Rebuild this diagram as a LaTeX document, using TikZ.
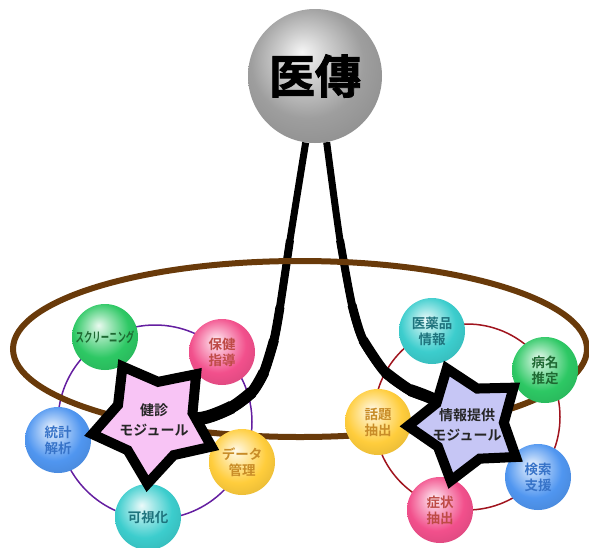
\documentclass[tikz,border=0pt]{standalone}
\usepackage{fontspec}
\usetikzlibrary{shapes.geometric}
\newfontfamily\jp{Noto Sans CJK JP}[BoldFont={Noto Sans CJK JP Bold}]
\newfontfamily\jpheavy{Noto Sans CJK JP Bold}[FakeBold=2]
\pgfdeclarelayer{bg}
\pgfsetlayers{bg,main}
\colorlet{ballc}{gray}
\pgfdeclareradialshading[ballc]{myball}{\pgfqpoint{-5bp}{9bp}}{%
  color(0bp)=(ballc!10!white); color(9bp)=(ballc!50!white);
  color(21bp)=(ballc); color(30bp)=(ballc!92!black); color(50bp)=(ballc!80!black)}
\definecolor{brownc}{RGB}{105,58,10}
\definecolor{purpc}{RGB}{100,30,160}
\definecolor{redc}{RGB}{160,20,30}
\definecolor{gballc}{RGB}{45,200,100}
\definecolor{pballc}{RGB}{242,80,140}
\definecolor{bballc}{RGB}{80,150,240}
\definecolor{yballc}{RGB}{255,205,60}
\definecolor{cballc}{RGB}{60,205,205}
\definecolor{gtxt}{RGB}{30,105,50}
\definecolor{ptxt}{RGB}{190,75,70}
\definecolor{btxt}{RGB}{55,115,200}
\definecolor{ytxt}{RGB}{200,140,40}
\definecolor{ctxt}{RGB}{30,115,125}
\definecolor{starpink}{RGB}{248,196,245}
\definecolor{starlav}{RGB}{198,198,245}
\begin{document}
\begin{tikzpicture}[x=1pt,y=-1pt,
  sphere/.style={circle, minimum size=66pt, inner sep=0pt,
    /utils/exec={\colorlet{ballc}{#1}}, shading=myball, align=center,
    font=\jp\bfseries\fontsize{13.5}{16}\selectfont},
  starbox/.style={star, star points=5, star point ratio=1.6, draw=black,
    line width=10pt, line join=miter, miter limit=10, inner sep=0pt,
    minimum size=#1},
  startext/.style={align=center, text=black!85,
    font=\jp\bfseries\fontsize{14}{19.5}\selectfont},
  blk/.style={draw=black, line width=#1, line cap=butt, line join=round},
  ringline/.style={draw=#1, line width=1.5pt}]
\useasboundingbox (0,0) rectangle (589,547);

% top sphere
\node[circle, minimum size=134pt, inner sep=0pt,
  /utils/exec={\colorlet{ballc}{black!38}}, shading=myball,
  font=\jpheavy\fontsize{46}{50}\selectfont] (top) at (315,76) {医傳};

% left group balls
\node[sphere=gballc, text=gtxt] (scr) at (105,337) {\scalebox{0.62}[1]{スクリーニング}};
\node[sphere=pballc, text=ptxt] (hok) at (222,352) {保健\\指導};
\node[sphere=bballc, text=btxt] (tok) at (58,440) {統計\\解析};
\node[sphere=yballc, text=ytxt] (dat) at (242,462) {データ\\管理};
\node[sphere=cballc, text=ctxt] (kas) at (148,517) {可視化};

% right group balls
\node[sphere=cballc, text=ctxt] (iya) at (432,331) {医薬品\\情報};
\node[sphere=gballc, text=gtxt] (byo) at (545,370) {病名\\推定};
\node[sphere=yballc, text=ytxt] (wad) at (378,422) {話題\\抽出};
\node[sphere=bballc, text=btxt] (ken) at (538,477) {検索\\支援};
\node[sphere=pballc, text=ptxt] (sho) at (440,510) {症状\\抽出};

% stars
\node[starbox=126pt, fill=starpink, rotate=30] (s1) at (154,421) {};
\node[starbox=118pt, fill=starlav, rotate=20] (s2) at (467,424) {};
\node[startext] (t1) at (154,420) {健診\\モジュール};
\node[startext] (t2) at (467,425) {情報提供\\モジュール};

\begin{pgfonlayer}{bg}
  \draw[ringline=purpc] (155,422) circle[radius=97];
  \draw[ringline=redc] (467,417) circle[radius=93];
  % connectors (tapered by stacked strokes)
  \draw[blk=7pt] plot[smooth] coordinates {(top.262) (290,240) (280,307) (274,340) (264,372) (252,392) (232,407) (203,418) (s1)};
  \draw[blk=8pt] plot[smooth] coordinates {(290,240) (280,307) (274,340) (264,372) (252,392) (232,407) (203,418) (s1)};
  \draw[blk=9pt] plot[smooth] coordinates {(280,307) (274,340) (264,372) (252,392) (232,407) (203,418) (s1)};
  \draw[blk=10pt] plot[smooth] coordinates {(274,340) (264,372) (252,392) (232,407) (203,418) (s1)};
  \draw[blk=11pt] plot[smooth] coordinates {(264,372) (252,392) (232,407) (203,418) (s1)};
  \draw[blk=12pt] plot[smooth] coordinates {(252,392) (232,407) (203,418) (s1)};
  \draw[blk=13pt] plot[smooth] coordinates {(232,407) (203,418) (s1)};
  \draw[blk=7pt] plot[smooth] coordinates {(top.280) (340,240) (352,305) (363,340) (385,372) (410,390) (437,401) (s2)};
  \draw[blk=8pt] plot[smooth] coordinates {(340,240) (352,305) (363,340) (385,372) (410,390) (437,401) (s2)};
  \draw[blk=9pt] plot[smooth] coordinates {(352,305) (363,340) (385,372) (410,390) (437,401) (s2)};
  \draw[blk=10pt] plot[smooth] coordinates {(363,340) (385,372) (410,390) (437,401) (s2)};
  \draw[blk=11pt] plot[smooth] coordinates {(385,372) (410,390) (437,401) (s2)};
  \draw[blk=12pt] plot[smooth] coordinates {(410,390) (437,401) (s2)};
  % orbit
  \draw[draw=brownc, line width=6pt] (300,349) ellipse [x radius=287, y radius=88];
\end{pgfonlayer}
\end{tikzpicture}
\end{document}
